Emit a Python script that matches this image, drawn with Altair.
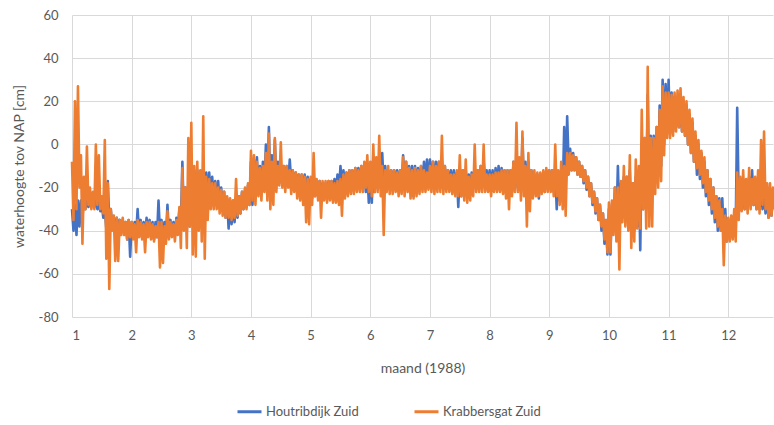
import altair as alt
import pandas as pd

months = list(range(1, 13))
step = 0.05

# Krabbersgat Zuid (orange): per 0.05 month the (high, low) of the band
K1 = [(-8, -35), (20, -30), (27, -20), (-5, -46), (-15, -30), (-1, -28), (-20, -30), (-22, -30), (0, -28), (-5, -30),
      (-24, -32), (2, -53), (-18, -67), (-30, -40), (-33, -54), (-34, -54), (-35, -42), (-34, -42), (-36, -44), (-35, -43)]
K2 = [(-36, -44), (-37, -50), (-35, -43), (-36, -44), (-37, -50), (-36, -43), (-36, -44), (-37, -45), (-38, -43), (-36, -57),
      (-36, -55), (-38, -46), (-31, -44), (-36, -43), (-37, -45), (-35, -42), (-29, -48), (-11, -40), (-20, -48), (3, -38)]
K3 = [(10, -51), (-10, -52), (-8, -40), (-12, -45), (13, -53), (-15, -35), (-16, -30), (-18, -30), (-18, -30), (-20, -32),
      (-21, -33), (-22, -34), (-24, -34), (-25, -35), (-26, -34), (-16, -33), (-24, -32), (-22, -30), (-20, -30), (-18, -28)]
K4 = [(-3, -26), (-5, -28), (-8, -24), (-11, -26), (-10, -22), (-4, -26), (5, -30), (-8, -28), (3, -22), (-10, -19),
      (1, -20), (-10, -22), (-10, -20), (-12, -23), (-12, -22), (-13, -25), (-14, -26), (-14, -28), (-15, -36), (-16, -37)]
K5 = [(-15, -28), (-4, -24), (-16, -26), (-17, -34), (-17, -26), (-17, -27), (-17, -26), (-17, -27), (-18, -27), (-17, -28),
      (-16, -33), (-14, -25), (-13, -24), (-12, -23), (-12, -23), (-11, -22), (-12, -22), (-10, -22), (-8, -20), (-5, -22)]
K6 = [(-8, -24), (0, -22), (-6, -22), (4, -24), (-10, -42), (-12, -22), (-10, -23), (-12, -23), (-12, -22), (-13, -24),
      (-12, -23), (-6, -24), (-8, -22), (-11, -25), (-12, -25), (-11, -24), (-12, -23), (-10, -22), (-12, -22), (-13, -21)]
K7 = [(-10, -22), (-8, -23), (-10, -22), (-8, -22), (4, -23), (-10, -22), (-12, -22), (-14, -23), (-14, -24), (-12, -24),
      (-5, -24), (-12, -26), (-7, -27), (-15, -26), (-14, -24), (0, -22), (-12, -22), (-10, -22), (0, -22), (-14, -22)]
K8 = [(-14, -24), (-14, -22), (-13, -22), (-13, -22), (-12, -23), (-12, -25), (-12, -30), (-12, -24), (-8, -22), (10, -22),
      (-6, -26), (6, -24), (-10, -38), (-4, -31), (-12, -25), (-12, -24), (-13, -24), (-13, -23), (-12, -22), (-11, -22)]
K9 = [(-12, -22), (-12, -24), (0, -24), (-12, -28), (-8, -30), (-10, -33), (-4, -14), (-4, -12), (-5, -12), (-6, -14),
      (-8, -15), (-10, -17), (-12, -20), (-15, -24), (-18, -27), (-22, -31), (-25, -35), (-28, -38), (-32, -44), (-35, -50)]
K10 = [(-27, -50), (-26, -42), (-20, -45), (-20, -58), (-17, -36), (-10, -38), (-15, -40), (-5, -48), (-18, -45), (-7, -39),
       (-10, -39), (16, -30), (3, -39), (36, -38), (3, -38), (3, -23), (8, -20), (16, -17), (27, -5), (24, 3)]
K11 = [(24, 3), (23, 4), (24, 6), (25, 8), (26, 6), (22, 4), (20, 0), (16, -4), (12, -8), (6, -11),
       (2, -14), (-3, -18), (-6, -22), (-12, -26), (-16, -30), (-20, -34), (-24, -38), (-26, -40), (-30, -56), (-33, -45)]
K12 = [(-34, -45), (-33, -44), (-30, -45), (-13, -35), (-15, -31), (-12, -30), (-16, -32), (-11, -30), (-16, -28), (-15, -30),
       (-12, -32), (2, -28), (6, -30), (-18, -34), (-18, -33), (-20, -30)]

# Houtribdijk Zuid (blue): per 0.05 month the (high, low) of the band
H1 = [(-30, -40), (-28, -42), (-26, -38), (-26, -34), (-25, -30), (-25, -29), (-25, -28), (-26, -29), (-26, -30), (-27, -31),
      (-28, -34), (-30, -39), (-17, -36), (-30, -38), (-34, -40), (-34, -38), (-35, -40), (-35, -40), (-36, -44), (-35, -52)]
H2 = [(-36, -42), (-36, -42), (-30, -42), (-35, -43), (-36, -42), (-34, -42), (-35, -43), (-36, -44), (-36, -43), (-26, -42),
      (-35, -43), (-36, -43), (-28, -42), (-35, -42), (-36, -42), (-34, -40), (-30, -38), (-8, -35), (-20, -40), (-18, -38)]
H3 = [(-15, -35), (-12, -40), (-12, -30), (-13, -28), (-14, -28), (-13, -26), (-13, -25), (-15, -26), (-17, -27), (-17, -28),
      (-20, -30), (-22, -34), (-25, -39), (-26, -37), (-26, -36), (-25, -34), (-24, -32), (-22, -30), (-21, -29), (-19, -28)]
H4 = [(-8, -28), (-7, -25), (-6, -22), (-10, -22), (-8, -20), (0, -20), (8, -22), (-5, -20), (2, -18), (-8, -18),
      (-10, -18), (-10, -18), (-10, -18), (-7, -18), (-12, -20), (-13, -20), (-14, -22), (-14, -22), (-14, -25), (-15, -24)]
H5 = [(-16, -25), (-16, -24), (-17, -23), (-17, -23), (-18, -23), (-18, -24), (-17, -23), (-17, -23), (-16, -22), (-14, -22),
      (-10, -20), (-12, -20), (-13, -20), (-12, -20), (-12, -20), (-11, -19), (-11, -19), (-10, -18), (-10, -22), (-12, -27)]
H6 = [(-12, -27), (-10, -22), (-8, -20), (-6, -20), (-4, -20), (-10, -20), (-12, -20), (-12, -20), (-12, -20), (-12, -21),
      (-12, -21), (-5, -20), (-8, -20), (-10, -22), (-10, -24), (-10, -22), (-11, -21), (-10, -20), (-8, -20), (-7, -19)]
H7 = [(-7, -20), (-8, -20), (-8, -18), (-8, -20), (-8, -20), (-10, -20), (-12, -20), (-12, -20), (-12, -22), (-13, -29),
      (-12, -24), (-12, -22), (-12, -22), (-14, -22), (-13, -20), (-12, -20), (-12, -20), (-10, -20), (-8, -18), (-12, -20)]
H8 = [(-12, -20), (-12, -20), (-11, -20), (-10, -20), (-11, -21), (-12, -22), (-12, -22), (-12, -22), (-8, -20), (-6, -20),
      (-8, -22), (3, -20), (-8, -20), (-8, -20), (-12, -22), (-14, -22), (-14, -25), (-14, -22), (-13, -22), (-12, -20)]
H9 = [(-12, -20), (-12, -22), (-12, -30), (-14, -26), (-12, -24), (8, -20), (13, -10), (-2, -12), (-4, -12), (-6, -14),
      (-8, -15), (-10, -18), (-12, -21), (-15, -24), (-18, -28), (-22, -32), (-25, -35), (-28, -40), (-32, -46), (-35, -51)]
H10 = [(-30, -51), (-28, -40), (-20, -38), (-10, -35), (-18, -34), (-15, -32), (-15, -35), (-12, -38), (-18, -40), (-15, -38),
       (-12, -49), (0, -30), (3, -30), (23, -25), (4, -20), (4, -18), (8, -15), (18, -10), (30, 0), (28, 5)]
H11 = [(30, 5), (24, 6), (22, 8), (22, 8), (22, 6), (20, 4), (18, 0), (14, -4), (10, -8), (4, -14),
       (0, -16), (-4, -20), (-8, -24), (-12, -28), (-16, -32), (-20, -36), (-24, -40), (-25, -40), (-25, -42), (-30, -45)]
H12 = [(-35, -42), (-36, -42), (-34, -40), (17, -26), (-20, -30), (-20, -30), (-20, -30), (-15, -28), (-12, -28), (-18, -30),
       (-20, -30), (-20, -30), (-22, -32), (-24, -34), (-24, -33), (-24, -30)]

K = [K1, K2, K3, K4, K5, K6, K7, K8, K9, K10, K11, K12]
H = [H1, H2, H3, H4, H5, H6, H7, H8, H9, H10, H11, H12]

s_h = "Houtribdijk Zuid"
s_k = "Krabbersgat Zuid"


def build(series, name):
    rows = []
    for m, pairs in zip(months, series):
        for i, (hi, lo) in enumerate(pairs):
            rows.append({"maand": m + i * step, "waarde": hi, "reeks": name, "o": len(rows)})
            rows.append({"maand": m + i * step + step / 2, "waarde": lo, "reeks": name, "o": len(rows)})
    return pd.DataFrame(rows)


df_h = build(H, s_h)
df_k = build(K, s_k)

FONT = "Lato"
GREY = "#595959"

color = alt.Color(
    "reeks:N",
    scale=alt.Scale(domain=[s_h, s_k], range=["#4472C4", "#ED7D31"]),
    title=None,
    legend=alt.Legend(
        orient="none", legendX=164, legendY=383, direction="horizontal",
        symbolType="stroke", symbolSize=576, symbolStrokeWidth=3,
        labelFont=FONT, labelFontSize=13, labelColor=GREY,
        columnPadding=49, labelOffset=3,
    ),
)

x = alt.X(
    "maand:Q",
    scale=alt.Scale(domain=[1, 12.75], nice=False, zero=False),
    axis=alt.Axis(
        values=months, grid=True, gridColor="#d9d9d9", domain=False, ticks=False,
        labelFont=FONT, labelFontSize=13, labelColor=GREY, labelPadding=12,
        title="maand (1988)", titleFont=FONT, titleFontSize=14, titleFontWeight="normal",
        titleColor=GREY, titlePadding=19,
    ),
)
y = alt.Y(
    "waarde:Q",
    scale=alt.Scale(domain=[-80, 60], nice=False),
    axis=alt.Axis(
        values=[-80, -60, -40, -20, 0, 20, 40, 60], grid=True, gridColor="#d9d9d9",
        domain=False, ticks=False, labelExpr="'' + datum.value",
        labelFont=FONT, labelFontSize=13, labelColor=GREY, labelPadding=14,
        title="waterhoogte tov NAP [cm]", titleFont=FONT, titleFontSize=14,
        titleFontWeight="normal", titleColor=GREY, titlePadding=12,
    ),
)

blue = alt.Chart(df_h).mark_line(strokeWidth=2.6, strokeJoin="round").encode(
    x=x, y=y, color=color, order="o:Q")
orange = alt.Chart(df_k).mark_line(strokeWidth=2.6, strokeJoin="round").encode(
    x=x, y=y, color=color, order="o:Q")

chart = alt.layer(blue, orange).properties(
    width=701, height=302,
    autosize=alt.AutoSizeParams(type="none"),
    padding={"left": 72, "top": 15, "right": 1, "bottom": 108},
).configure_view(strokeWidth=0)

chart.save("out.html", embed_options={"renderer": "svg", "actions": False})
